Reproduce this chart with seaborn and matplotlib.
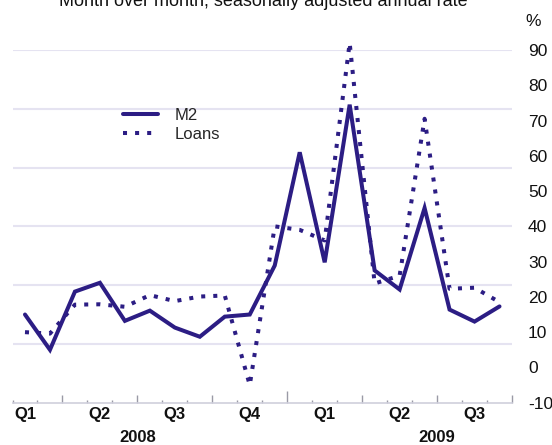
import matplotlib
matplotlib.use('Agg')
import matplotlib.pyplot as plt
import matplotlib.transforms as mtransforms
import seaborn as sns
import numpy as np
import pandas as pd

# ---- data ----
months = ['Feb 2008', 'Mar 2008', 'Apr 2008', 'May 2008', 'Jun 2008', 'Jul 2008',
          'Aug 2008', 'Sep 2008', 'Oct 2008', 'Nov 2008', 'Dec 2008', 'Jan 2009',
          'Feb 2009', 'Mar 2009', 'Apr 2009', 'May 2009', 'Jun 2009', 'Jul 2009',
          'Aug 2009', 'Sep 2009']
month_index = list(range(1, 21))   # Jan 2008 = 0
m2 = [15.0, 5.0, 21.5, 24.0, 13.2, 16.1, 11.3, 8.7, 14.4, 15.0,
      28.9, 61.0, 29.8, 74.5, 27.5, 22.1, 45.2, 16.4, 13.0, 17.3]
loans = [10.0, 9.6, 17.8, 17.9, 17.2, 20.5, 18.8, 20.1, 20.4, -5.0,
         40.0, 39.0, 36.0, 92.0, 23.8, 26.0, 70.5, 22.3, 22.6, 18.5]
quarter_labels = ['Q1', 'Q2', 'Q3', 'Q4', 'Q1', 'Q2', 'Q3']
quarter_centers = [1, 4, 7, 10, 13, 16, 19]
year_labels = ['2008', '2009']
year_centers = [5.5, 17.5]
ytick_values = list(range(-10, 100, 10))
title = 'Month over month, seasonally adjusted annual rate'

df = pd.DataFrame({'month': month_index, 'M2': m2, 'Loans': loans})

# ---- style ----
sns.set_theme(style='white')
plt.rcParams['font.family'] = ['Liberation Sans', 'DejaVu Sans']

W, H = 552, 445
fig = plt.figure(figsize=(W / 100, H / 100), dpi=100)
ax = fig.add_axes([12.5 / W, 1 - 402.7 / H, (512 - 12.5) / W, (402.7 - 50) / H])

line_color = '#2c1d84'
grid_color = '#e5e3f1'

for v in np.linspace(-10, 90, 7)[1:]:
    ax.axhline(v, color=grid_color, lw=1.5, zorder=0)

sns.lineplot(data=df, x='month', y='M2', ax=ax, color=line_color, lw=2.9,
             label='M2', clip_on=False, solid_joinstyle='miter')
sns.lineplot(data=df, x='month', y='Loans', ax=ax, color=line_color, lw=2.9,
             linestyle=(0, (1, 2.0)), label='Loans', clip_on=False)

ax.set_xlim(0.5, 20.5)
ax.set_ylim(-10, 90)
ax.set_xlabel('')
ax.set_ylabel('')

for s in ['top', 'left', 'right']:
    ax.spines[s].set_visible(False)
ax.spines['bottom'].set_color('#cfcfdc')
ax.spines['bottom'].set_linewidth(1.2)

# x ticks: quarter boundaries (major), month boundaries (minor)
major = [2.5, 5.5, 8.5, 11.5, 14.5, 17.5, 20.5]
minor = [x + 0.5 for x in range(0, 20) if (x + 0.5) not in major]
ax.set_xticks(major)
ax.set_xticks(minor, minor=True)
ax.set_xticklabels([])
ax.tick_params(axis='x', which='major', direction='in', length=5.5, width=1,
               color='#9a9aa6', bottom=True)
ax.tick_params(axis='x', which='minor', direction='in', length=2.4, width=1,
               color='#9a9aa6', bottom=True)
for t, pos in zip(ax.xaxis.get_major_ticks(), major):
    if pos == 11.5:
        t.tick1line.set_markersize(8.6)

# y ticks on the right
ax.yaxis.tick_right()
ax.set_yticks(ytick_values)
ax.set_yticklabels([str(v) for v in ytick_values])
ax.tick_params(axis='y', which='major', length=0, pad=11.5, labelsize=12.5,
               labelcolor='#111111')
for lab in ax.get_yticklabels():
    lab.set_horizontalalignment('left')

# quarter and year labels
trans = mtransforms.blended_transform_factory(ax.transData, fig.transFigure)
for lab, xc in zip(quarter_labels, quarter_centers):
    ax.text(xc, 1 - 414 / H, lab, transform=trans, ha='center', va='center',
            fontsize=12, fontweight='bold', color='#111111', clip_on=False)
for lab, xc in zip(year_labels, year_centers):
    ax.text(xc, 1 - 437.5 / H, lab, transform=trans, ha='center', va='center',
            fontsize=12, fontweight='bold', color='#111111', clip_on=False)

fig.text(533 / W, 1 - 22 / H, '%', ha='center', va='center', fontsize=12.5,
         color='#111111')
fig.text(263 / W, 1 - 6 / H, title, ha='center', va='baseline', fontsize=13,
         color='#111111')

ax.legend(loc='upper left', bbox_to_anchor=(123 / W, 1 - 108 / H),
          bbox_transform=fig.transFigure, frameon=False, fontsize=12,
          handlelength=2.1, handletextpad=1.0, labelspacing=0.22,
          borderpad=0, borderaxespad=0)

fig.savefig('out.png', dpi=100)
